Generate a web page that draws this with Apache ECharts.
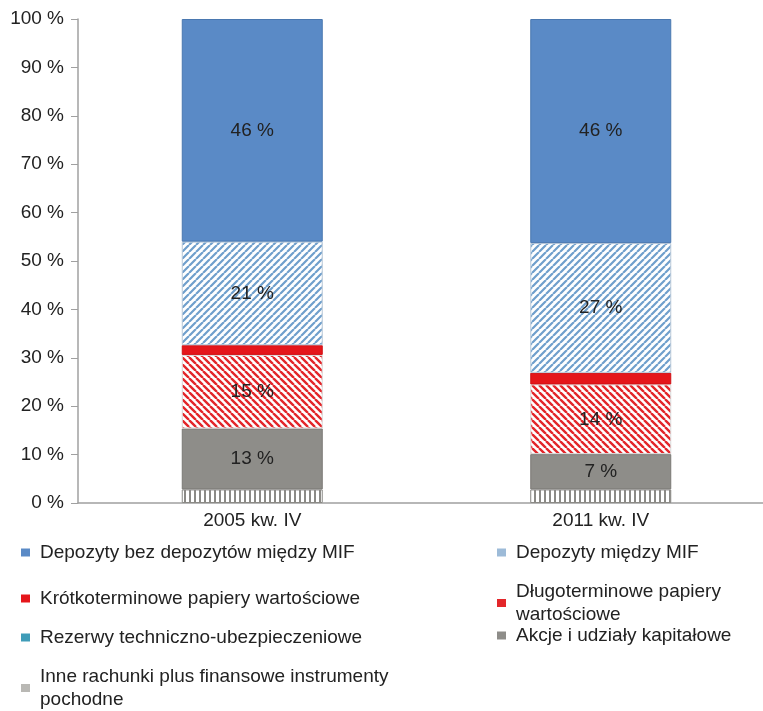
<!DOCTYPE html>
<html>
<head>
<meta charset="utf-8">
<script src="https://cdn.jsdelivr.net/npm/echarts@6/dist/echarts.min.js"></script>
<style>
  html, body { margin: 0; padding: 0; background: #fff; }
  #chart { width: 763px; height: 711px; }
</style>
</head>
<body>
<div id="chart"></div>
<script>
// data (shares in %)
const categories = ['2005 kw. IV', '2011 kw. IV']
const inneRachunki = [2.8, 2.8]
const akcje = [12.6, 7.3]
const rezerwy = [0, 0]
const dlugoterminowe = [15.2, 14.4]
const krotkoterminowe = [2.0, 2.4]
const depozytyMiedzy = [21.4, 26.8]
const depozytyBez = [46.0, 46.3]
const yTicks = [0, 10, 20, 30, 40, 50, 60, 70, 80, 90, 100]

// small canvas tiles for the hatched fills
function hatch(bg, fg, dir, size, width) {
  const c = document.createElement('canvas')
  c.width = size
  c.height = size
  const g = c.getContext('2d')
  g.fillStyle = bg
  g.fillRect(0, 0, size, size)
  g.strokeStyle = fg
  g.lineWidth = width
  g.beginPath()
  for (let k = -1; k <= 1; k++) {
    if (dir === '/') {
      g.moveTo(k * size, size)
      g.lineTo(k * size + size, 0)
    } else {
      g.moveTo(k * size, 0)
      g.lineTo(k * size + size, size)
    }
  }
  g.stroke()
  return { image: c, repeat: 'repeat' }
}

function vstripes() {
  const c = document.createElement('canvas')
  c.width = 5
  c.height = 5
  const g = c.getContext('2d')
  g.fillStyle = '#8b8a86'
  g.fillRect(0, 0, 5, 5)
  g.fillStyle = '#ffffff'
  g.fillRect(1, 0, 3, 5)
  return { image: c, repeat: 'repeat' }
}

const blueHatch = hatch('#ffffff', '#6f9fcc', '/', 7, 2.2)
const redHatch = hatch('#ffffff', '#e3262a', '\\', 7, 2.4)
const greyStripes = vstripes()

const FONT = 'Liberation Sans'
const pct = (p) => Math.round(p.value) + ' %'
const lbl = { show: true, color: '#222', fontSize: 19, fontFamily: FONT, formatter: pct }

function seg(name, data, color, border, withLabel) {
  return {
    name,
    type: 'bar',
    stack: 'all',
    data,
    barWidth: 141,
    itemStyle: { color, borderColor: border, borderWidth: border ? 1 : 0 },
    label: withLabel ? lbl : { show: false },
    emphasis: { disabled: true },
  }
}

const series = [
  seg('Inne rachunki plus finansowe instrumenty pochodne', inneRachunki, greyStripes, '#8b8a86', false),
  seg('Akcje i udziały kapitałowe', akcje, '#8e8d89', '#7b7a76', true),
  seg('Rezerwy techniczno-ubezpieczeniowe', rezerwy, '#3f9cb8', null, false),
  seg('Długoterminowe papiery wartościowe', dlugoterminowe, redHatch, '#d9d9d9', true),
  seg('Krótkoterminowe papiery wartościowe', krotkoterminowe, '#e5161b', '#d01015', false),
  seg('Depozyty między MIF', depozytyMiedzy, blueHatch, '#b8c8d8', true),
  seg('Depozyty bez depozytów między MIF', depozytyBez, '#5a8ac6', '#4a78b0', true),
]

// one legend per entry so the two-column layout can be placed freely
const legendText = { color: '#222', fontSize: 19, fontFamily: FONT, lineHeight: 23, padding: [0, 0, 0, 5] }
function leg(name, left, top, fmt, icon) {
  return {
    data: [{ name, itemStyle: icon ? { color: icon, borderWidth: 0 } : undefined }],
    left,
    top,
    icon: 'rect',
    itemWidth: 9,
    itemHeight: 8,
    itemGap: 0,
    textStyle: legendText,
    formatter: fmt || '{name}',
    selectedMode: false,
  }
}

const legends = [
  leg('Depozyty bez depozytów między MIF', 16, 536, null, '#5a8ac6'),
  leg('Krótkoterminowe papiery wartościowe', 16, 582, null, '#e5161b'),
  leg('Rezerwy techniczno-ubezpieczeniowe', 16, 621, null, '#3f9cb8'),
  leg('Inne rachunki plus finansowe instrumenty pochodne', 16, 660,
    () => 'Inne rachunki plus finansowe instrumenty\npochodne', '#b9b8b4'),
  leg('Depozyty między MIF', 492, 536, null, '#9dbbd8'),
  leg('Długoterminowe papiery wartościowe', 492, 575,
    () => 'Długoterminowe papiery\nwartościowe', '#e3262a'),
  leg('Akcje i udziały kapitałowe', 492, 619, null, '#8e8d89'),
]

const chart = echarts.init(document.getElementById('chart'), null, { renderer: 'canvas' })
chart.setOption({
  animation: false,
  grid: { left: 78, right: -12, top: 19, bottom: 208, containLabel: false, outerBoundsMode: 'none' },
  legend: legends,
  xAxis: {
    type: 'category',
    data: categories,
    axisLine: { lineStyle: { color: '#a0a0a0', width: 1.5 } },
    axisTick: { show: false },
    axisLabel: { color: '#222', fontSize: 19, fontFamily: FONT, margin: 8 },
  },
  yAxis: {
    type: 'value',
    min: yTicks[0],
    max: yTicks[yTicks.length - 1],
    interval: yTicks[1] - yTicks[0],
    axisLine: { show: true, lineStyle: { color: '#a0a0a0', width: 1.5 } },
    axisTick: { show: true, length: 7, lineStyle: { color: '#a0a0a0' } },
    splitLine: { show: false },
    axisLabel: { color: '#222', fontSize: 19, fontFamily: FONT, margin: 14, formatter: '{value} %' },
  },
  series,
})
</script>
</body>
</html>
